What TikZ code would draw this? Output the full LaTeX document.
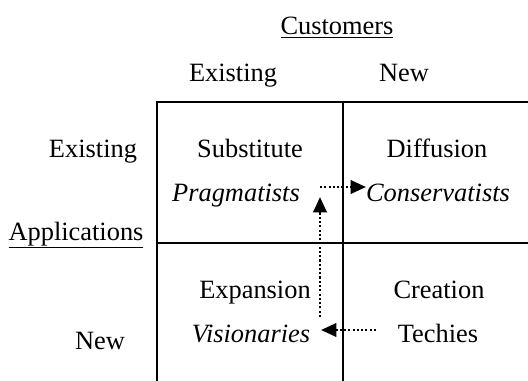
\documentclass[tikz,border=0pt]{standalone}
\usepackage{fontspec}
\setmainfont{Liberation Serif}
\usetikzlibrary{arrows.meta}
\begin{document}
\begin{tikzpicture}[x=0.75pt,y=-0.75pt,
  lbl/.style={anchor=base,inner sep=0pt,font=\fontsize{19.8}{24}\selectfont},
  grid/.style={line width=1.7pt,line cap=rect},
  dotarrow/.style={line width=1.9pt,dash pattern=on 1.6pt off 1.6pt,
    -{Triangle[length=11.5pt,width=10pt]}}]
\useasboundingbox (0,0) rectangle (528,381);
% grid
\coordinate (tl) at (157,102);
\coordinate (tr) at (528,102);
\coordinate (bl) at (157,381);
\coordinate (tm) at (343,102);
\coordinate (bm) at (343,381);
\coordinate (ml) at (157,243);
\coordinate (mr) at (528,243);
\draw[grid] (tr) -- (tl) -- (bl);
\draw[grid] (tm) -- (bm);
\draw[grid] (ml) -- (mr);
% headers
\node[lbl] (cust) at (337,35) {\underline{Customers}};
\node[lbl] (cex) at (233,82) {Existing};
\node[lbl] (cnew) at (404,82) {New};
\node[lbl] (rex) at (93,157) {Existing};
\node[lbl] (app) at (76,240) {\underline{Applications}};
\node[lbl] (rnew) at (100,349) {New};
% cells
\node[lbl] (sub) at (250,157) {Substitute};
\node[lbl] (prag) at (236,201) {\itshape Pragmatists};
\node[lbl] (dif) at (437,157) {Diffusion};
\node[lbl] (cons) at (438,201) {\itshape Conservatists};
\node[lbl] (exp) at (255,298) {Expansion};
\node[lbl] (vis) at (251,342) {\itshape Visionaries};
\node[lbl] (cre) at (439,298) {Creation};
\node[lbl] (tech) at (438,342) {Techies};
% arrows
\coordinate (h1s) at (320,187);
\coordinate (h1e) at (366,187);
\coordinate (v1s) at (320,317);
\coordinate (v1e) at (320,197);
\coordinate (h2s) at (376,330);
\coordinate (h2e) at (321,330);
\draw[dotarrow] (h1s) -- (h1e);
\draw[dotarrow] (v1s) -- (v1e);
\draw[dotarrow] (h2s) -- (h2e);
\end{tikzpicture}
\end{document}
